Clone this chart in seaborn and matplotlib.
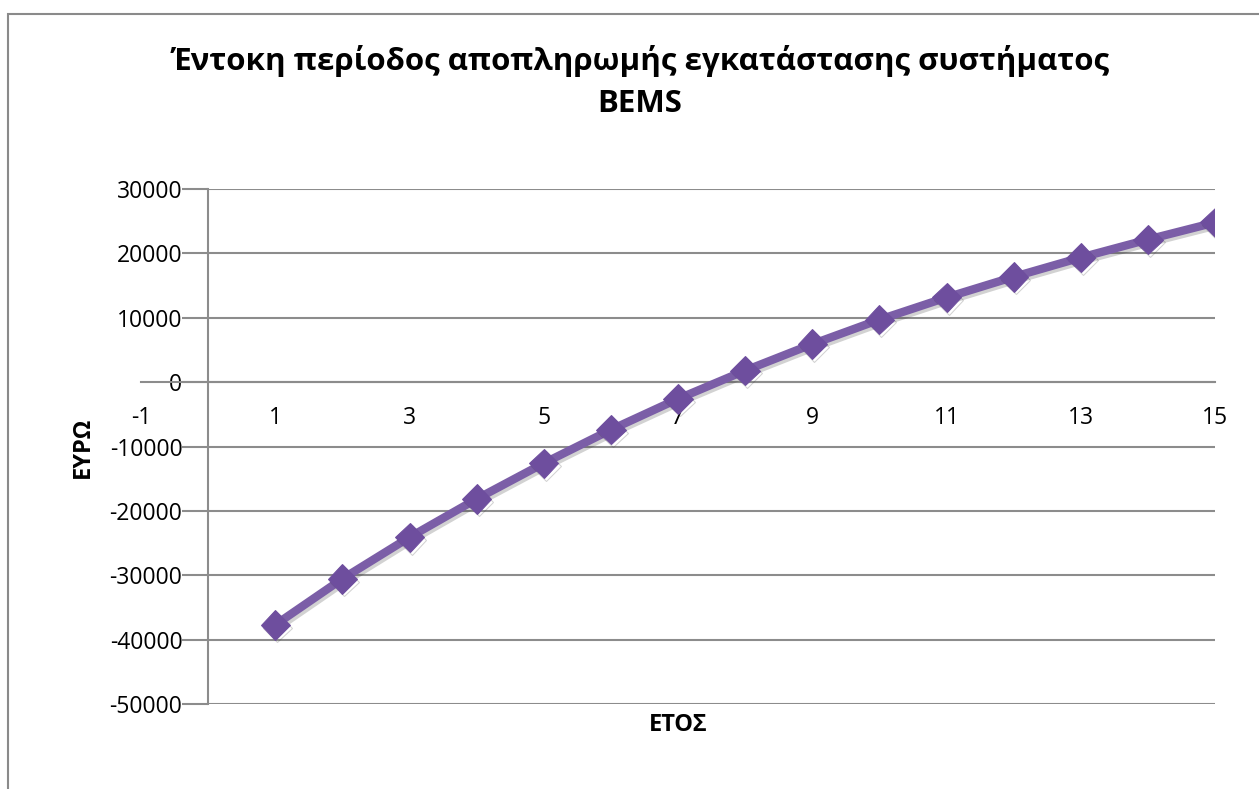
import matplotlib
matplotlib.use("Agg")
import matplotlib.pyplot as plt
import matplotlib.patheffects as pe
from matplotlib.patches import Rectangle
import seaborn as sns
import pandas as pd

# Cumulative discounted cash flow of the BEMS installation, per year
years = [1, 2, 3, 4, 5, 6, 7, 8, 9, 10, 11, 12, 13, 14, 15]
euros = [-37700, -30550, -24100, -18150, -12600, -7400, -2600, 1800,
         5900, 9700, 13150, 16350, 19350, 22150, 24800]

y_ticks = [-50000, -40000, -30000, -20000, -10000, 0, 10000, 20000, 30000]
x_ticks = [-1, 1, 3, 5, 7, 9, 11, 13, 15]

title = "Έντοκη περίοδος αποπληρωμής εγκατάστασης συστήματος\nBEMS"
x_label = "ΕΤΟΣ"
y_label = "ΕΥΡΩ"

sns.set_theme(style="white")
plt.rcParams["font.family"] = ["Open Sans", "DejaVu Sans"]
plt.rcParams["text.color"] = "black"

line_color = "#7B5EA7"
marker_color = "#6E4E9E"
grid_color = "#8C8C8C"

df = pd.DataFrame({"year": years, "euro": euros})

fig = plt.figure(figsize=(12.59, 7.89), dpi=100)
fig.patch.set_facecolor("white")

# chart frame (runs off the right and bottom edges)
fig.patches.append(Rectangle((7.5 / 1259, -0.1), 1.2, (789 - 14) / 789 + 0.1,
                             transform=fig.transFigure, fill=False,
                             edgecolor="#8A8A8A", linewidth=1.5))

ax = fig.add_axes([141 / 1259, 85 / 789, 1074 / 1259, 515 / 789])
ax.set_facecolor("none")
ax.set_xlim(-1, 15)
ax.set_ylim(-50000, 30000)

# horizontal gridlines from the value axis to the right edge
ax.hlines(y_ticks, 0, 15, colors=grid_color, linewidth=1.5, zorder=1)

sns.lineplot(data=df, x="year", y="euro", ax=ax, color=line_color,
             linewidth=6, marker="D", markersize=15,
             markerfacecolor=marker_color, markeredgecolor=marker_color,
             zorder=3,
             path_effects=[pe.SimpleLineShadow(offset=(1.5, -2), alpha=0.22,
                                               shadow_color="#333333"),
                           pe.Normal()])

for side in ("top", "right"):
    ax.spines[side].set_visible(False)
ax.spines["left"].set_position(("data", 0))
ax.spines["bottom"].set_position(("data", 0))
for side in ("left", "bottom"):
    ax.spines[side].set_color(grid_color)
    ax.spines[side].set_linewidth(1.5)
    ax.spines[side].set_zorder(1)

ax.set_yticks(y_ticks)
ax.set_yticklabels([str(v) for v in y_ticks])
ax.set_xticks(x_ticks)
ax.set_xticklabels([str(v) for v in x_ticks])
ax.tick_params(axis="y", which="major", direction="out", length=18.5,
               width=1.5, color=grid_color, pad=0, labelsize=16.5,
               labelcolor="black", left=True)
ax.tick_params(axis="x", which="major", length=0, pad=17, labelsize=16.5,
               labelcolor="black", bottom=True)

ax.set_xlabel("")
ax.set_ylabel("")
fig.text(678 / 1259, 1 - 725 / 789, x_label, ha="center", va="center",
         fontsize=17, fontweight="bold")
fig.text(83 / 1259, 1 - 447 / 789, y_label, ha="center", va="center",
         rotation=90, fontsize=17, fontweight="bold")
fig.text(640 / 1259, 1 - 82 / 789, title, ha="center", va="center",
         fontsize=22.5, fontweight="bold", linespacing=1.5)

fig.savefig("out.png", dpi=100)
